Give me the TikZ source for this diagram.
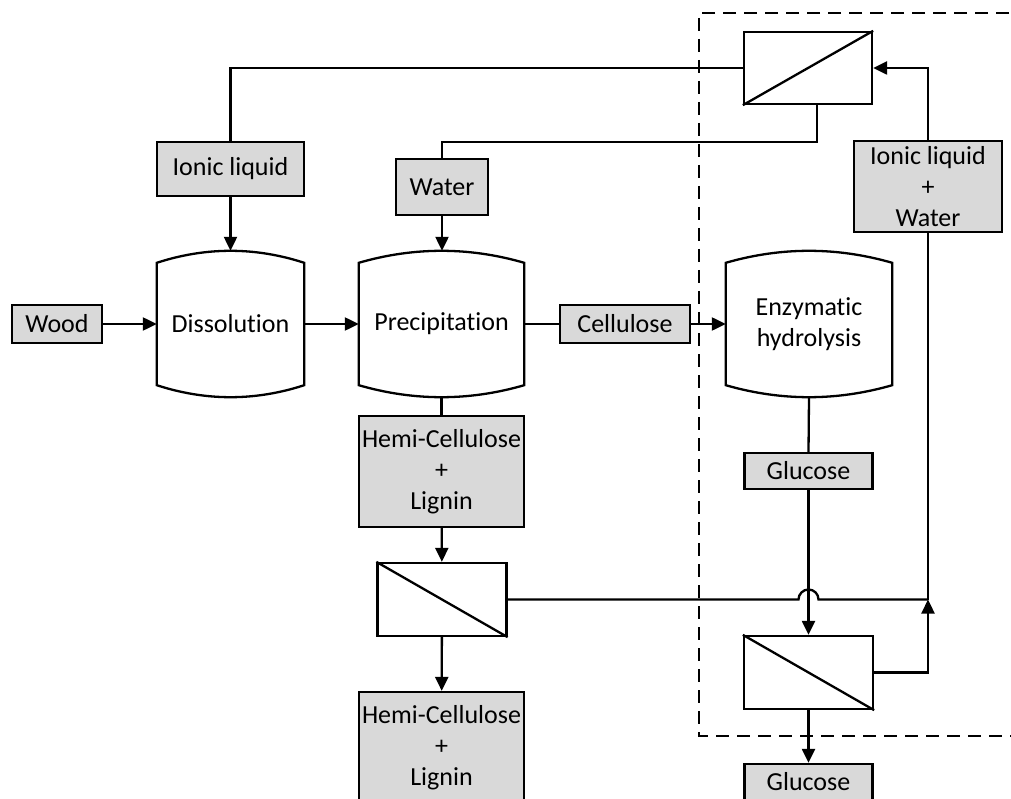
\documentclass[tikz,border=0pt]{standalone}
\usepackage{fontspec}
\setmainfont{Carlito}[RawFeature={-liga}]
\usetikzlibrary{calc,arrows.meta}
\definecolor{boxgray}{HTML}{D9D9D9}
\begin{document}
\begin{tikzpicture}[x=1pt,y=-1pt,
  ln/.style={line width=2.3pt},
  arr/.style={ln,-{Triangle[length=14pt,width=13pt]}},
  txt/.style={font=\fontsize{26}{31}\selectfont,align=center,inner sep=0pt},
  feed/.style={txt,draw,ln,fill=boxgray},
  tank/.style={txt,minimum height=146pt},
  membrane/.style={draw,ln,minimum width=128pt,minimum height=72pt,inner sep=0pt},
  boundary/.style={line width=2.3pt,dash pattern=on 13pt off 8pt}]
\useasboundingbox (0,0) rectangle (1011,799);
\clip (0,0) rectangle (1011,799);

% process vessels
\node[tank,minimum width=147pt] (diss) at (230.5,324) {Dissolution};
\node[tank,minimum width=165pt] (prec) at (441.5,324) {Precipitation};
\node[tank,minimum width=166pt] (enz) at (809,324) {Enzymatic\\hydrolysis};
\foreach \t in {diss,prec,enz}{
  \draw[ln] let \p1=(\t.north west), \p2=(\t.south east), \n1={(\x2-\x1)/3} in
    (\x1,\y1-12pt) -- (\x1,\y2+12pt)
    .. controls (\x1+\n1*1pt,\y2-4pt) and (\x2-\n1*1pt,\y2-4pt) .. (\x2,\y2+12pt)
    -- (\x2,\y1-12pt)
    .. controls (\x2-\n1*1pt,\y1+4pt) and (\x1+\n1*1pt,\y1+4pt) .. cycle;
}

% streams
\node[feed,minimum width=90pt,minimum height=38pt] (wood) at (57,324) {Wood};
\node[feed,minimum width=130pt,minimum height=38pt] (cell) at (625,324) {Cellulose};
\node[feed,minimum width=147pt,minimum height=54pt] (ionic) at (230.5,169) {Ionic liquid};
\node[feed,minimum width=92pt,minimum height=56pt] (water) at (442,187) {Water};
\node[feed,minimum width=165pt,minimum height=111pt] (hemi1) at (441.5,471.5) {Hemi-Cellulose\\+\\Lignin};
\node[feed,minimum width=165pt,minimum height=111pt] (hemi2) at (441.5,747.5) {Hemi-Cellulose\\+\\Lignin};
\node[feed,minimum width=128pt,minimum height=36pt] (gluc1) at (808.5,471) {Glucose};
\node[feed,minimum width=128pt,minimum height=36pt] (gluc2) at (808.5,782) {Glucose};
\node[feed,minimum width=148pt,minimum height=91pt] (ilw) at (928,186.5) {Ionic liquid\\+\\Water};

% membrane separators
\node[membrane] (memtop) at (808,68) {};
\node[membrane,minimum width=129pt,minimum height=73pt] (memmid) at (442,599.5) {};
\node[membrane,minimum width=129pt,minimum height=73pt] (membot) at (808.5,672.5) {};
\draw[ln] (memtop.south west) -- (memtop.north east);
\draw[ln] (memmid.north west) -- (memmid.south east);
\draw[ln] (membot.north west) -- (membot.south east);

% connections
\draw[arr] (wood) -- (diss);
\draw[arr] (diss) -- (prec);
\draw[ln] (prec) -- (cell);
\draw[arr] (cell) -- (enz);
\draw[ln] (memtop.west) -| (ionic.north);
\draw[arr] (ionic.south) -- (diss.north);
\draw[ln] ([xshift=9pt]memtop.south) -- ++(0,37) -| (water.north);
\draw[arr] (water.south) -- (water.south |- prec.north);
\draw[ln] (prec.south) -- (hemi1.north);
\draw[arr] (hemi1) -- (memmid);
\draw[arr] (memmid) -- (hemi2);
\coordinate (j) at (ilw.south |- memmid.east);
\coordinate (hop) at (gluc1.south |- memmid.east);
\draw[ln] (memmid.east) -- ($(hop)+(-10,0)$) arc[start angle=180,end angle=0,radius=10pt] -- (j);
\draw[arr] (membot.east) -| (j);
\draw[ln] (j) -- (ilw.south);
\draw[arr] (ilw.north) |- (memtop.east);
\draw[ln] (enz.south) -- (gluc1.north);
\draw[arr] (gluc1) -- (membot);
\draw[arr] (membot) -- (gluc2);

% hydrolysis section boundary
\draw[boundary] (1030,13) -- (699,13) -- (699,736) -- (1030,736);
\end{tikzpicture}
\end{document}
